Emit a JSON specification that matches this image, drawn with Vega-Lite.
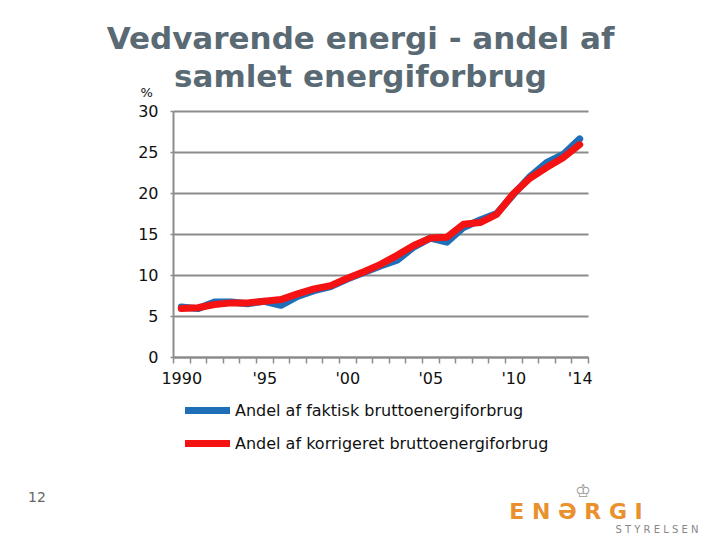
{
  "$schema": "https://vega.github.io/schema/vega-lite/v6.json",
  "width": 415,
  "height": 246,
  "autosize": "none",
  "padding": {"left": 173, "top": 111, "right": 132, "bottom": 183},
  "background": "white",
  "view": {"stroke": null},
  "title": {
    "text": ["Vedvarende energi - andel af", "samlet energiforbrug"],
    "font": "DejaVu Sans",
    "fontSize": 31,
    "fontWeight": "bold",
    "color": "#5a6a74",
    "anchor": "middle",
    "frame": "group",
    "dx": -20,
    "offset": -8,
    "lineHeight": 38
  },
  "layer": [
    {
      "data": {
        "values": [
          {"year": 1990, "serie": "Andel af faktisk bruttoenergiforbrug", "andel": 6.1},
          {"year": 1991, "serie": "Andel af faktisk bruttoenergiforbrug", "andel": 5.9},
          {"year": 1992, "serie": "Andel af faktisk bruttoenergiforbrug", "andel": 6.7},
          {"year": 1993, "serie": "Andel af faktisk bruttoenergiforbrug", "andel": 6.7},
          {"year": 1994, "serie": "Andel af faktisk bruttoenergiforbrug", "andel": 6.5},
          {"year": 1995, "serie": "Andel af faktisk bruttoenergiforbrug", "andel": 6.8},
          {"year": 1996, "serie": "Andel af faktisk bruttoenergiforbrug", "andel": 6.3},
          {"year": 1997, "serie": "Andel af faktisk bruttoenergiforbrug", "andel": 7.4},
          {"year": 1998, "serie": "Andel af faktisk bruttoenergiforbrug", "andel": 8.1},
          {"year": 1999, "serie": "Andel af faktisk bruttoenergiforbrug", "andel": 8.6},
          {"year": 2000, "serie": "Andel af faktisk bruttoenergiforbrug", "andel": 9.5},
          {"year": 2001, "serie": "Andel af faktisk bruttoenergiforbrug", "andel": 10.3},
          {"year": 2002, "serie": "Andel af faktisk bruttoenergiforbrug", "andel": 11.1},
          {"year": 2003, "serie": "Andel af faktisk bruttoenergiforbrug", "andel": 11.8},
          {"year": 2004, "serie": "Andel af faktisk bruttoenergiforbrug", "andel": 13.4},
          {"year": 2005, "serie": "Andel af faktisk bruttoenergiforbrug", "andel": 14.5},
          {"year": 2006, "serie": "Andel af faktisk bruttoenergiforbrug", "andel": 14.0},
          {"year": 2007, "serie": "Andel af faktisk bruttoenergiforbrug", "andel": 15.8},
          {"year": 2008, "serie": "Andel af faktisk bruttoenergiforbrug", "andel": 16.7},
          {"year": 2009, "serie": "Andel af faktisk bruttoenergiforbrug", "andel": 17.5},
          {"year": 2010, "serie": "Andel af faktisk bruttoenergiforbrug", "andel": 19.8},
          {"year": 2011, "serie": "Andel af faktisk bruttoenergiforbrug", "andel": 22.0},
          {"year": 2012, "serie": "Andel af faktisk bruttoenergiforbrug", "andel": 23.7},
          {"year": 2013, "serie": "Andel af faktisk bruttoenergiforbrug", "andel": 24.7},
          {"year": 2014, "serie": "Andel af faktisk bruttoenergiforbrug", "andel": 26.6},
          {"year": 1990, "serie": "Andel af korrigeret bruttoenergiforbrug", "andel": 5.9},
          {"year": 1991, "serie": "Andel af korrigeret bruttoenergiforbrug", "andel": 6.0},
          {"year": 1992, "serie": "Andel af korrigeret bruttoenergiforbrug", "andel": 6.4},
          {"year": 1993, "serie": "Andel af korrigeret bruttoenergiforbrug", "andel": 6.6},
          {"year": 1994, "serie": "Andel af korrigeret bruttoenergiforbrug", "andel": 6.6},
          {"year": 1995, "serie": "Andel af korrigeret bruttoenergiforbrug", "andel": 6.8},
          {"year": 1996, "serie": "Andel af korrigeret bruttoenergiforbrug", "andel": 7.0},
          {"year": 1997, "serie": "Andel af korrigeret bruttoenergiforbrug", "andel": 7.7},
          {"year": 1998, "serie": "Andel af korrigeret bruttoenergiforbrug", "andel": 8.3},
          {"year": 1999, "serie": "Andel af korrigeret bruttoenergiforbrug", "andel": 8.7},
          {"year": 2000, "serie": "Andel af korrigeret bruttoenergiforbrug", "andel": 9.6},
          {"year": 2001, "serie": "Andel af korrigeret bruttoenergiforbrug", "andel": 10.4},
          {"year": 2002, "serie": "Andel af korrigeret bruttoenergiforbrug", "andel": 11.3},
          {"year": 2003, "serie": "Andel af korrigeret bruttoenergiforbrug", "andel": 12.4},
          {"year": 2004, "serie": "Andel af korrigeret bruttoenergiforbrug", "andel": 13.6},
          {"year": 2005, "serie": "Andel af korrigeret bruttoenergiforbrug", "andel": 14.5},
          {"year": 2006, "serie": "Andel af korrigeret bruttoenergiforbrug", "andel": 14.6},
          {"year": 2007, "serie": "Andel af korrigeret bruttoenergiforbrug", "andel": 16.2},
          {"year": 2008, "serie": "Andel af korrigeret bruttoenergiforbrug", "andel": 16.4},
          {"year": 2009, "serie": "Andel af korrigeret bruttoenergiforbrug", "andel": 17.4},
          {"year": 2010, "serie": "Andel af korrigeret bruttoenergiforbrug", "andel": 19.9},
          {"year": 2011, "serie": "Andel af korrigeret bruttoenergiforbrug", "andel": 21.8},
          {"year": 2012, "serie": "Andel af korrigeret bruttoenergiforbrug", "andel": 23.1},
          {"year": 2013, "serie": "Andel af korrigeret bruttoenergiforbrug", "andel": 24.3},
          {"year": 2014, "serie": "Andel af korrigeret bruttoenergiforbrug", "andel": 25.9}
        ]
      },
      "mark": {"type": "line", "strokeWidth": 7, "strokeCap": "round", "strokeJoin": "round"},
      "encoding": {
        "x": {
          "field": "year",
          "type": "ordinal",
          "bandPosition": 0.5,
          "scale": {"type": "band", "paddingInner": 0, "paddingOuter": 0},
          "axis": {
            "title": null,
            "tickBand": "extent",
            "labelExpr": "datum.value == 1990 ? '1990' : (datum.value % 5 == 0 || datum.value == 2014) ? \"'\" + substring(toString(datum.value), 2) : ''",
            "labelAngle": 0,
            "labelOverlap": false,
            "labelFont": "DejaVu Sans",
            "labelFontSize": 16,
            "labelColor": "#111111",
            "labelPadding": 7,
            "domainColor": "#8c8c8c",
            "domainWidth": 2,
            "tickColor": "#8c8c8c",
            "tickWidth": 1.5,
            "tickSize": 6,
            "grid": false
          }
        },
        "y": {
          "field": "andel",
          "type": "quantitative",
          "scale": {"domain": [0, 30]},
          "axis": {
            "values": [0, 5, 10, 15, 20, 25, 30],
            "grid": true,
            "gridColor": "#8c8c8c",
            "gridWidth": 2,
            "domainColor": "#8c8c8c",
            "domainWidth": 2,
            "tickColor": "#8c8c8c",
            "tickSize": 3,
            "tickWidth": 1.5,
            "labelFont": "DejaVu Sans",
            "labelFontSize": 16,
            "labelColor": "#111111",
            "labelPadding": 12,
            "title": "%",
            "titleFont": "DejaVu Sans",
            "titleFontSize": 13,
            "titleFontWeight": "normal",
            "titleColor": "#111111",
            "titleAngle": 0,
            "titleAlign": "left",
            "titleBaseline": "bottom",
            "titleX": -33,
            "titleY": -12
          }
        },
        "color": {
          "field": "serie",
          "type": "nominal",
          "scale": {
            "domain": ["Andel af faktisk bruttoenergiforbrug", "Andel af korrigeret bruttoenergiforbrug"],
            "range": ["#1f6fb8", "#f41212"]
          },
          "legend": {
            "title": null,
            "orient": "none",
            "legendX": 16,
            "legendY": 281,
            "direction": "vertical",
            "symbolType": "M-1.5,0H1.5",
            "symbolStrokeWidth": 7,
            "symbolSize": 900,
            "labelFont": "DejaVu Sans",
            "labelFontSize": 16,
            "labelColor": "#111111",
            "labelOffset": 9,
            "labelLimit": 420,
            "rowPadding": -2
          }
        }
      }
    },
    {
      "data": {"values": [{"side": "12"}]},
      "mark": {"type": "text", "font": "DejaVu Sans", "fontSize": 14, "color": "#666666", "align": "center", "baseline": "alphabetic"},
      "encoding": {"x": {"value": -136}, "y": {"value": 391}, "text": {"field": "side"}}
    },
    {
      "data": {"values": [{"logo": "♔"}]},
      "mark": {"type": "text", "font": "DejaVu Sans", "fontSize": 18, "color": "#9a9a9a", "align": "center", "baseline": "alphabetic"},
      "encoding": {"x": {"value": 410}, "y": {"value": 386}, "text": {"field": "logo"}}
    },
    {
      "data": {"values": [{"logo": "E N Ə R G I"}]},
      "mark": {"type": "text", "font": "DejaVu Sans", "fontSize": 22, "fontWeight": "bold", "color": "#e8912e", "align": "center", "baseline": "alphabetic"},
      "encoding": {"x": {"value": 403}, "y": {"value": 408}, "text": {"field": "logo"}}
    },
    {
      "data": {"values": [{"logo": "S T Y R E L S E N"}]},
      "mark": {"type": "text", "font": "DejaVu Sans", "fontSize": 10, "color": "#888888", "align": "center", "baseline": "alphabetic"},
      "encoding": {"x": {"value": 484}, "y": {"value": 422}, "text": {"field": "logo"}}
    }
  ]
}
